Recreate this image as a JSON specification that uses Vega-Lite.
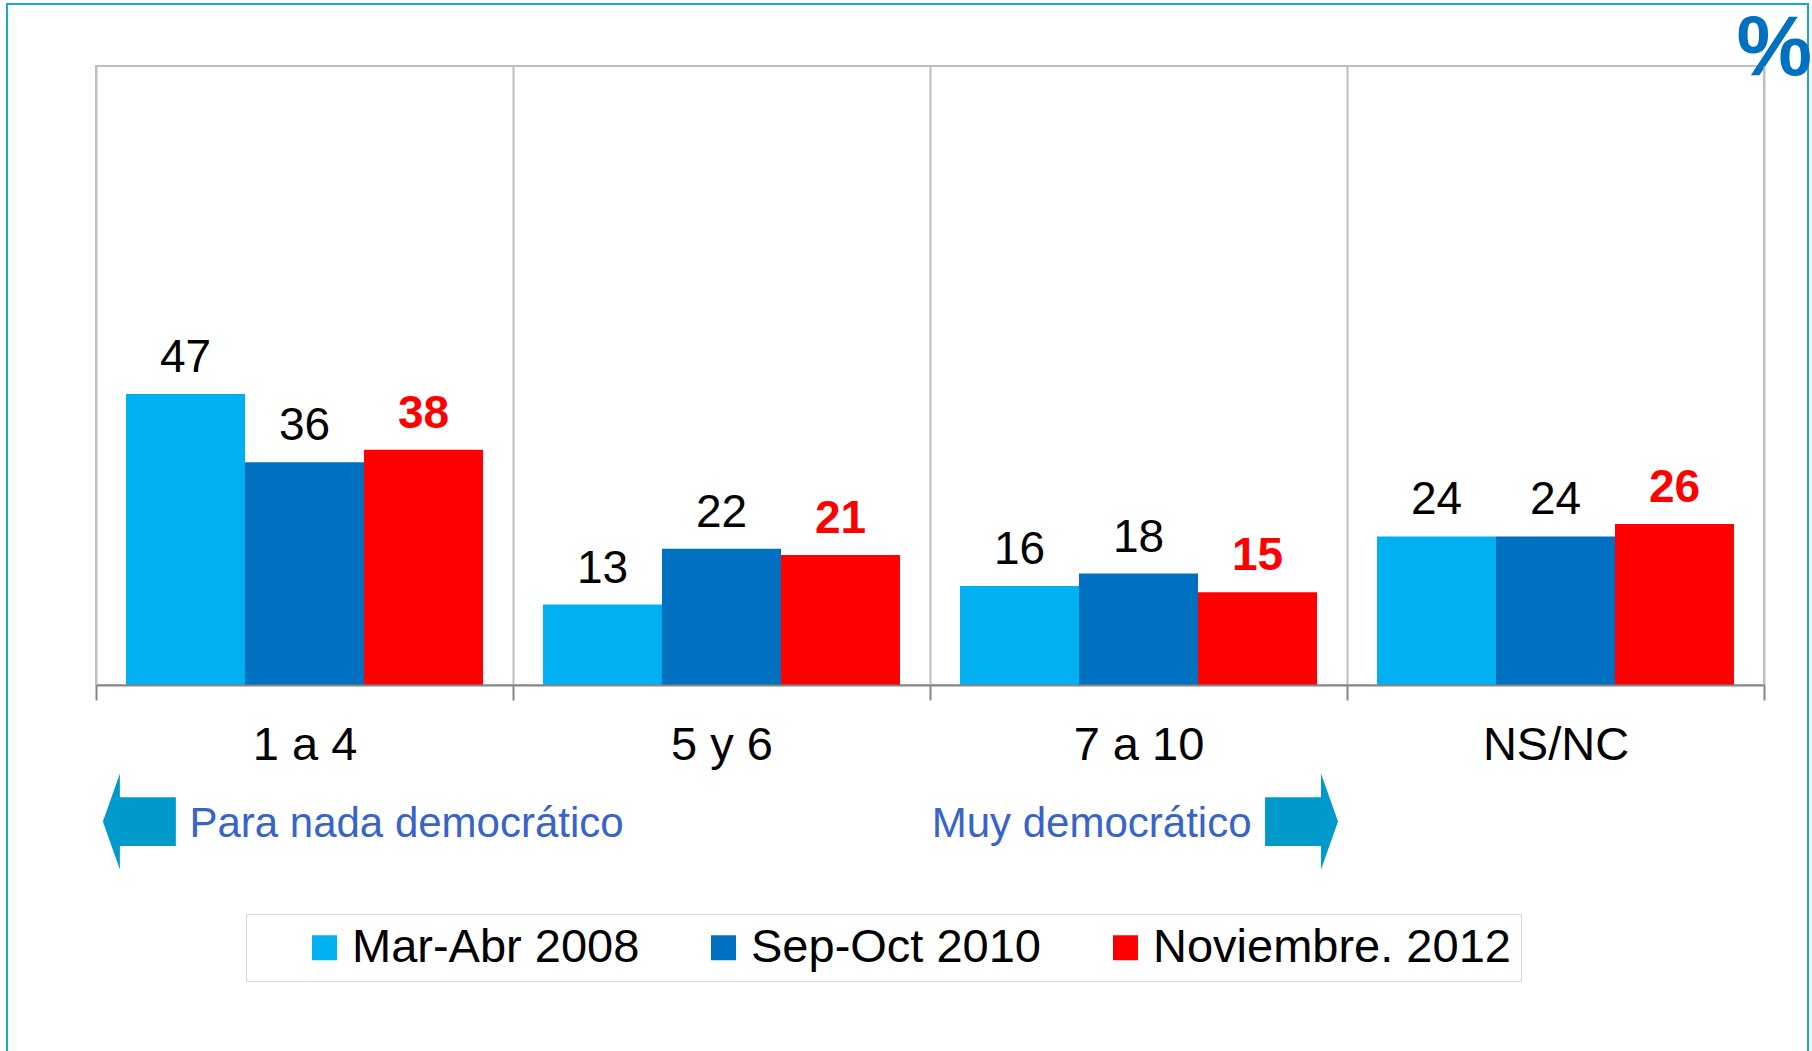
{
  "$schema": "https://vega.github.io/schema/vega-lite/v6.json",
  "width": 1668,
  "height": 619,
  "autosize": {"type": "none"},
  "padding": {"left": 96, "top": 66, "right": 48, "bottom": 366},
  "background": "white",
  "config": {
    "view": {"stroke": "#BFBFBF", "strokeWidth": 2},
    "font": "Liberation Sans",
    "text": {"font": "Liberation Sans"}
  },
  "datasets": {
    "bars": [
      {"grupo": "1 a 4", "periodo": "Mar-Abr 2008", "valor": 47},
      {"grupo": "1 a 4", "periodo": "Sep-Oct 2010", "valor": 36},
      {"grupo": "1 a 4", "periodo": "Noviembre. 2012", "valor": 38},
      {"grupo": "5 y 6", "periodo": "Mar-Abr 2008", "valor": 13},
      {"grupo": "5 y 6", "periodo": "Sep-Oct 2010", "valor": 22},
      {"grupo": "5 y 6", "periodo": "Noviembre. 2012", "valor": 21},
      {"grupo": "7 a 10", "periodo": "Mar-Abr 2008", "valor": 16},
      {"grupo": "7 a 10", "periodo": "Sep-Oct 2010", "valor": 18},
      {"grupo": "7 a 10", "periodo": "Noviembre. 2012", "valor": 15},
      {"grupo": "NS/NC", "periodo": "Mar-Abr 2008", "valor": 24},
      {"grupo": "NS/NC", "periodo": "Sep-Oct 2010", "valor": 24},
      {"grupo": "NS/NC", "periodo": "Noviembre. 2012", "valor": 26}
    ],
    "notes": [
      {"kind": "frame", "ax": -0.2134, "ax2": 4.1055, "ay": 110.0, "ay2": -61},
      {"kind": "arrowL", "ax": 0.104, "ay": -22.07},
      {"kind": "arrowR", "ax": 2.891, "ay": -22.07},
      {"kind": "textL", "text": "Para nada democrático", "ax": 0.224, "ay": -22.46},
      {"kind": "textR", "text": "Muy democrático", "ax": 2.771, "ay": -22.46},
      {"kind": "pct", "text": "%", "ax": 3.934, "ay": 98.47}
    ]
  },
  "layer": [
    {
      "data": {"name": "notes"},
      "encoding": {
        "x": {"field": "ax", "type": "quantitative", "scale": {"domain": [0, 4], "nice": false, "zero": false}, "axis": null},
        "y": {"field": "ay", "type": "quantitative", "scale": {"domain": [0, 100], "nice": false, "zero": false}, "axis": null}
      },
      "layer": [
        {
          "transform": [{"filter": "datum.kind === 'frame'"}],
          "mark": {"type": "rect", "fill": null, "fillOpacity": 0, "stroke": "#1BA6D8", "strokeWidth": 2},
          "encoding": {"x2": {"field": "ax2"}, "y2": {"field": "ay2"}}
        },
        {
          "transform": [{"filter": "datum.kind === 'arrowL'"}],
          "mark": {"type": "point", "filled": true, "opacity": 1, "color": "#0099CC", "size": 9216,
                   "shape": "M-0.76,0L-0.406,-1L-0.406,-0.51L0.76,-0.51L0.76,0.51L-0.406,0.51L-0.406,1Z"}
        },
        {
          "transform": [{"filter": "datum.kind === 'arrowR'"}],
          "mark": {"type": "point", "filled": true, "opacity": 1, "color": "#0099CC", "size": 9216,
                   "shape": "M0.76,0L0.406,-1L0.406,-0.51L-0.76,-0.51L-0.76,0.51L0.406,0.51L0.406,1Z"}
        },
        {
          "transform": [{"filter": "datum.kind === 'textL'"}],
          "mark": {"type": "text", "align": "left", "baseline": "middle", "fontSize": 42, "color": "#3864C8"},
          "encoding": {"text": {"field": "text"}}
        },
        {
          "transform": [{"filter": "datum.kind === 'textR'"}],
          "mark": {"type": "text", "align": "right", "baseline": "middle", "fontSize": 42, "color": "#3864C8"},
          "encoding": {"text": {"field": "text"}}
        },
        {
          "transform": [{"filter": "datum.kind === 'pct'"}],
          "mark": {"type": "text", "align": "left", "baseline": "alphabetic", "fontSize": 85, "fontWeight": "bold", "color": "#0070C0"},
          "encoding": {"text": {"field": "text"}}
        }
      ]
    },
    {
      "data": {"name": "bars"},
      "encoding": {
        "x": {
          "field": "grupo", "type": "nominal",
          "sort": ["1 a 4", "5 y 6", "7 a 10", "NS/NC"],
          "scale": {"paddingInner": 0, "paddingOuter": 0},
          "axis": {
            "title": null, "labelAngle": 0, "labelFontSize": 47, "labelFont": "Liberation Sans",
            "labelColor": "#000000", "labelPadding": 22, "tickSize": 15, "tickColor": "#868686",
            "tickWidth": 2, "domainColor": "#868686", "domainWidth": 2, "grid": true,
            "gridColor": "#BFBFBF", "gridWidth": 2, "tickBand": "extent", "zindex": 1
          }
        },
        "xOffset": {
          "field": "periodo", "type": "nominal",
          "sort": ["Mar-Abr 2008", "Sep-Oct 2010", "Noviembre. 2012"],
          "scale": {"paddingInner": 0, "paddingOuter": 0.252}
        },
        "y": {"field": "valor", "type": "quantitative", "scale": {"domain": [0, 100], "nice": false, "zero": false}, "axis": null}
      },
      "layer": [
        {
          "mark": {"type": "bar"},
          "encoding": {
            "color": {
              "field": "periodo", "type": "nominal",
              "scale": {"domain": ["Mar-Abr 2008", "Sep-Oct 2010", "Noviembre. 2012"], "range": ["#00B0F0", "#0070C0", "#FF0000"]},
              "legend": {
                "title": null, "orient": "none", "legendX": 150, "legendY": 848, "direction": "horizontal",
                "symbolType": "square", "symbolSize": 625, "symbolStrokeWidth": 0, "symbolOpacity": 1,
                "symbolOffset": 45,
                "labelFontSize": 47, "labelFont": "Liberation Sans", "labelColor": "#000000", "labelOffset": 4,
                "labelLimit": 1000, "columnPadding": 15, "padding": 10,
                "strokeColor": "#D9D9D9", "fillColor": "#FFFFFF"
              }
            }
          }
        },
        {
          "transform": [{"filter": "datum.periodo !== 'Noviembre. 2012'"}],
          "mark": {"type": "text", "dy": -22, "baseline": "alphabetic", "fontSize": 46, "color": "#000000"},
          "encoding": {"text": {"field": "valor", "type": "quantitative"}}
        },
        {
          "transform": [{"filter": "datum.periodo === 'Noviembre. 2012'"}],
          "mark": {"type": "text", "dy": -22, "baseline": "alphabetic", "fontSize": 46, "fontWeight": "bold", "color": "#FF0000"},
          "encoding": {"text": {"field": "valor", "type": "quantitative"}}
        }
      ]
    }
  ],
  "resolve": {"scale": {"x": "independent"}}
}
